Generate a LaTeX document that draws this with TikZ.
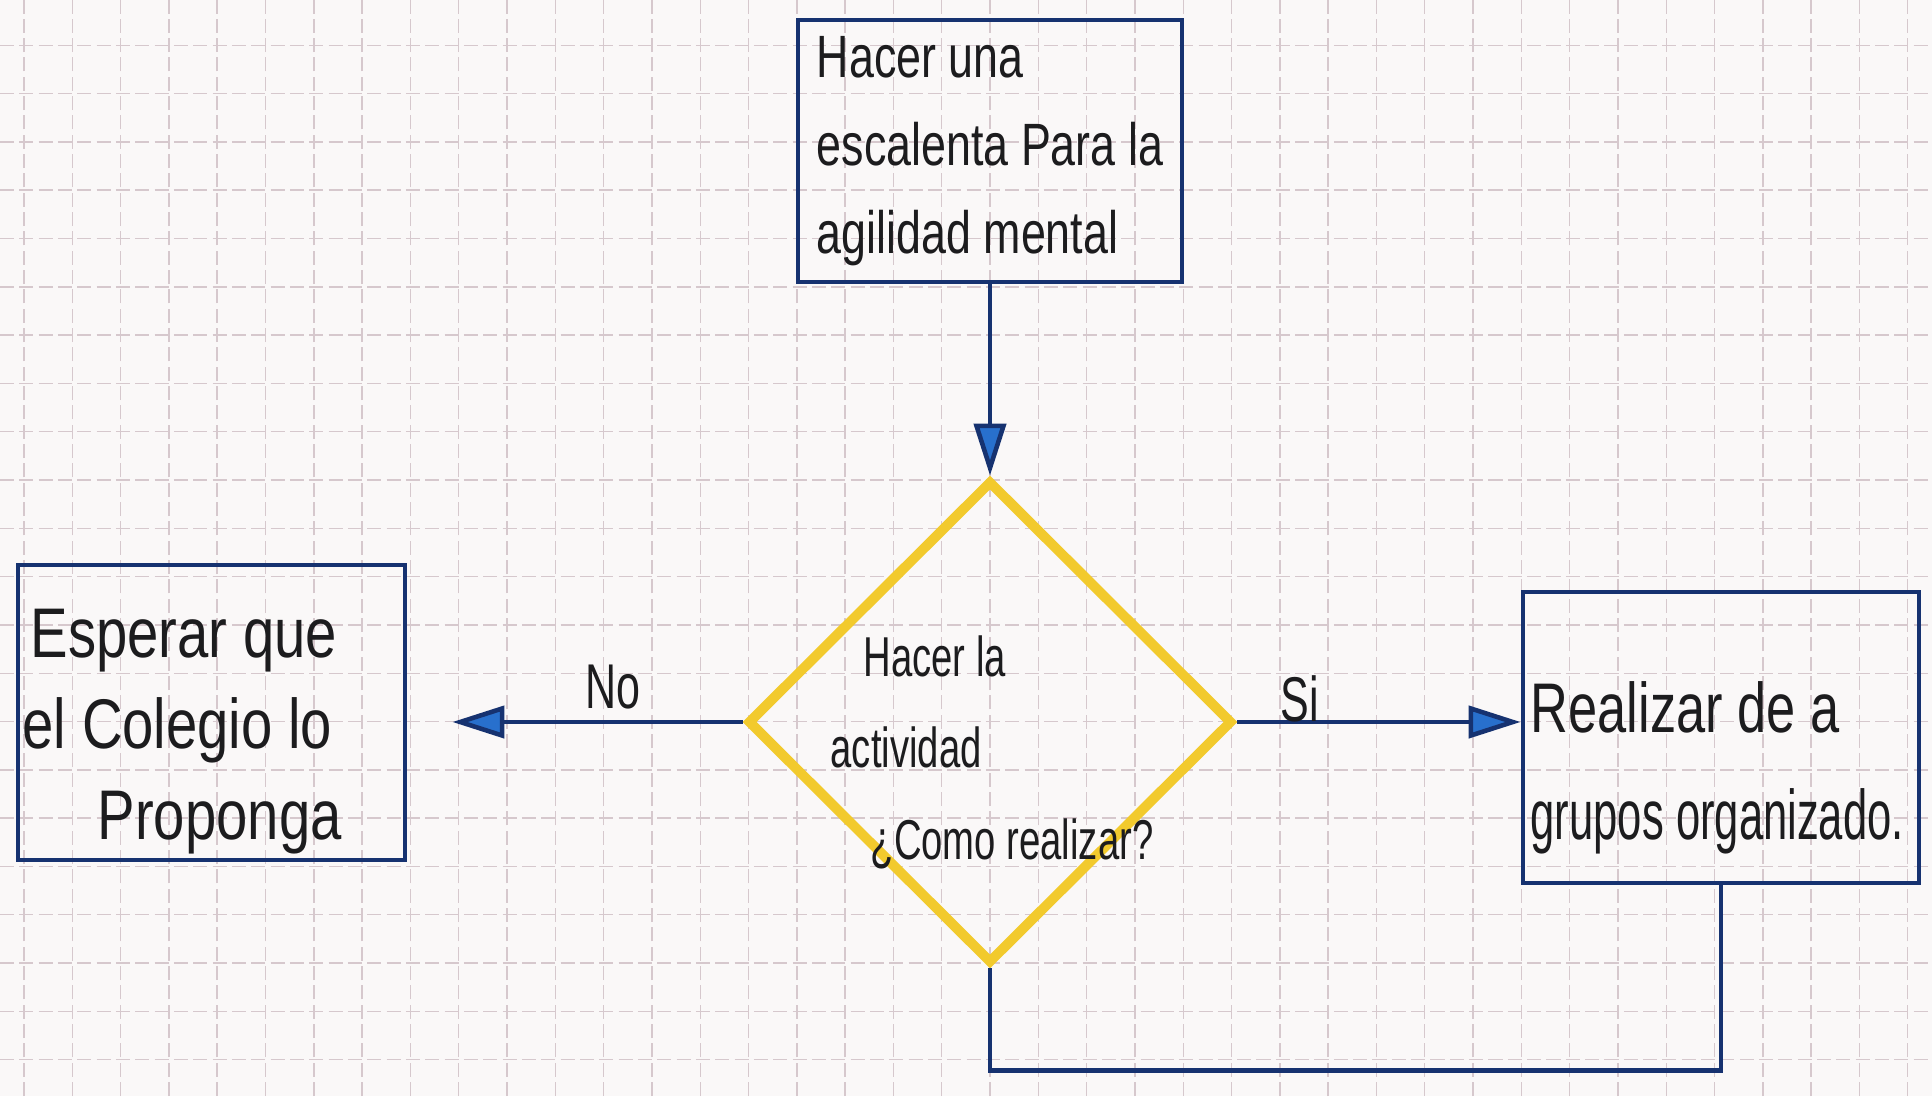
\documentclass[tikz,border=0pt]{standalone}
\usepackage{fontspec}
\setmainfont{Liberation Sans}[FakeStretch=0.68]
\usetikzlibrary{arrows.meta, positioning, calc, shapes.geometric}

\definecolor{inkblue}{RGB}{22,50,112}
\definecolor{tipblue}{RGB}{40,112,205}
\definecolor{markeryellow}{RGB}{242,202,45}
\definecolor{gridpink}{RGB}{214,200,205}
\definecolor{paper}{RGB}{250,248,248}
\definecolor{pencil}{RGB}{28,28,30}

\begin{document}
\begin{tikzpicture}[
    font=\fontsize{16}{25}\selectfont,
    text=pencil,
    box/.style={
        draw=inkblue,
        line width=1.4pt,
        align=left,
        inner sep=4pt
    },
    bigtxt/.style={
        align=left,
        inner sep=0pt,
        anchor=north west,
        font=\fontsize{20}{26}\selectfont\addfontfeatures{FakeStretch=0.8}
    },
    decision/.style={
        diamond,
        draw=markeryellow,
        line width=2.8pt,
        aspect=1,
        minimum width=4.85cm,
        minimum height=4.83cm,
        inner sep=0pt
    },
    arr/.style={
        draw=inkblue,
        line width=1.3pt,
        -{Triangle[length=5.2mm, width=3.2mm, fill=tipblue]}
    },
    lbl/.style={font=\fontsize{18}{20}\selectfont},
    gridline/.style={draw=gridpink, line width=0.4pt, dash pattern=on 4pt off 1.5pt}
]

% Paper and squared grid
\useasboundingbox (0,0) rectangle (19.32,10.96);
\fill[paper] (0,0) rectangle (19.32,10.96);
\begin{scope}
    \clip (0,0) rectangle (19.32,10.96);
    \foreach \i in {-20,...,19}
        \draw[gridline] ({9.90+0.483*\i},0) -- ++(0,10.96);
    \foreach \j in {-12,...,10}
        \draw[gridline] (0,{6.16+0.483*\j}) -- ++(19.32,0);
\end{scope}

% Start box
\node[box, minimum width=3.84cm, minimum height=2.62cm,
      font=\fontsize{17}{25}\selectfont\addfontfeatures{FakeStretch=0.75}] (start) at (9.90,9.45) {
    Hacer una\\
    escalenta Para la\\
    agilidad mental
};

% Decision
\node[decision] (ask) at (9.90,3.74) {};
\node[align=left, inner sep=0pt, anchor=north west, font=\fontsize{16}{26}\selectfont] (asktext) at (8.30,4.61) {
    \hspace*{0.33cm}Hacer la\\
    actividad\\
    \hspace*{0.40cm}¿Como realizar?
};

% Outcome boxes
\node[box, minimum width=3.87cm, minimum height=2.95cm] (wait) at (2.115,3.835) {};
\node[bigtxt] (waittext) at (0.22,4.88) {
    \hspace*{0.08cm}Esperar que\\
    el Colegio lo\\
    \hspace*{0.75cm}Proponga
};

\node[box, minimum width=3.96cm, minimum height=2.91cm] (group) at (17.21,3.585) {};
\node[bigtxt, font=\fontsize{20}{30.5}\selectfont\addfontfeatures{FakeStretch=0.745}] (grouptext) at (15.30,4.15) {
    Realizar de a\\
    {\addfontfeatures{FakeStretch=0.62}grupos organizado.}
};

% Connectors
\draw[arr] (start) -- (ask);

\draw[arr, shorten >=4.5mm] (ask.west) -- (ask.west -| wait.east);
\node[lbl] (nolbl) at (6.13,4.09) {No};

\draw[arr] (ask.east) -- (ask.east -| group.west);
\node[lbl] (silbl) at (13.00,3.97) {Si};

% Loop back under the diamond
\draw[draw=inkblue, line width=1.4pt] (group.south) -- ++(0,-1.85) -| (ask.south);

\end{tikzpicture}
\end{document}
